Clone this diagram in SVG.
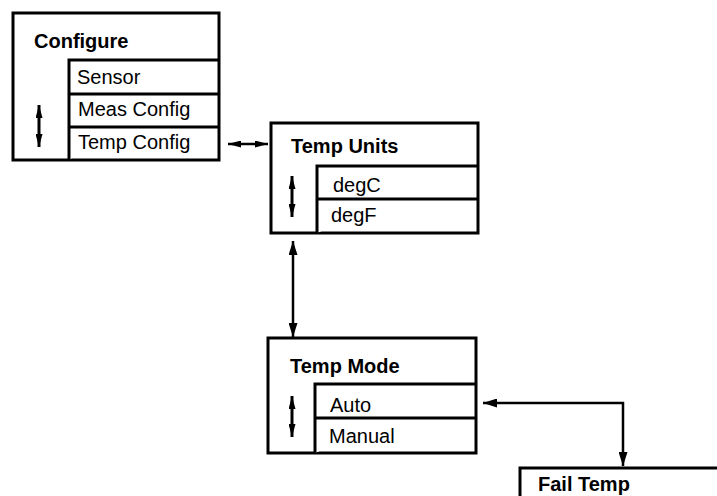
<svg xmlns="http://www.w3.org/2000/svg" width="717" height="496" viewBox="0 0 717 496">
<defs>
<style>
.box{fill:#fff;stroke:#000;stroke-width:3}
.ln{fill:none;stroke:#000;stroke-width:2.5}
.t{font-family:"Liberation Sans",Arial,sans-serif;font-weight:bold;font-size:20px;fill:#000}
.i{font-family:"Liberation Sans",Arial,sans-serif;font-size:20px;fill:#000}
.sc{fill:none;stroke:#000;stroke-width:3}
</style>
<marker id="ah" viewBox="0 0 14 9" refX="14" refY="4.5" markerWidth="14" markerHeight="9" markerUnits="userSpaceOnUse" orient="auto-start-reverse">
<path d="M0,0 L14,4.5 L0,9 Z" fill="#000"/>
</marker>
<marker id="sh" viewBox="0 0 13 7" refX="13" refY="3.5" markerWidth="13" markerHeight="7" markerUnits="userSpaceOnUse" orient="auto-start-reverse">
<path d="M0,0 L13,3.5 L0,7 Z" fill="#000"/>
</marker>
</defs>
<g id="configure">
<rect class="box" x="13" y="13" width="206" height="147"/>
<path class="box" d="M69,160 V60 H219 M69,94 H219 M69,127 H219"/>
<text class="t" x="34" y="48">Configure</text>
<text class="i" x="77" y="84">Sensor</text>
<text class="i" x="78" y="116">Meas Config</text>
<text class="i" x="78" y="149">Temp Config</text>
<line class="sc" x1="39" y1="105" x2="39" y2="147" marker-start="url(#sh)" marker-end="url(#sh)"/>
</g>
<g id="temp-units">
<rect class="box" x="271" y="123" width="207" height="110"/>
<path class="box" d="M317,233 V166 H478 M317,199 H478"/>
<text class="t" x="291" y="153">Temp Units</text>
<text class="i" x="333" y="192">degC</text>
<text class="i" x="331" y="222">degF</text>
<line class="sc" x1="292" y1="176" x2="292" y2="217" marker-start="url(#sh)" marker-end="url(#sh)"/>
</g>
<g id="temp-mode">
<rect class="box" x="268" y="338" width="208" height="115"/>
<path class="box" d="M315,453 V384 H476 M315,418 H476"/>
<text class="t" x="290" y="373">Temp Mode</text>
<text class="i" x="330" y="412">Auto</text>
<text class="i" x="329" y="443">Manual</text>
<line class="sc" x1="292" y1="396" x2="292" y2="437" marker-start="url(#sh)" marker-end="url(#sh)"/>
</g>
<g id="fail-temp">
<rect class="box" x="520" y="468" width="210" height="40"/>
<text class="t" x="538" y="491">Fail Temp</text>
</g>
<g id="connectors">
<line class="ln" x1="228" y1="144" x2="268" y2="144" marker-start="url(#sh)" marker-end="url(#sh)"/>
<line class="ln" x1="293" y1="241" x2="293" y2="337" marker-start="url(#ah)" marker-end="url(#ah)"/>
<path class="ln" d="M483,403 H623 V466" marker-start="url(#ah)" marker-end="url(#ah)"/>
</g>
</svg>
